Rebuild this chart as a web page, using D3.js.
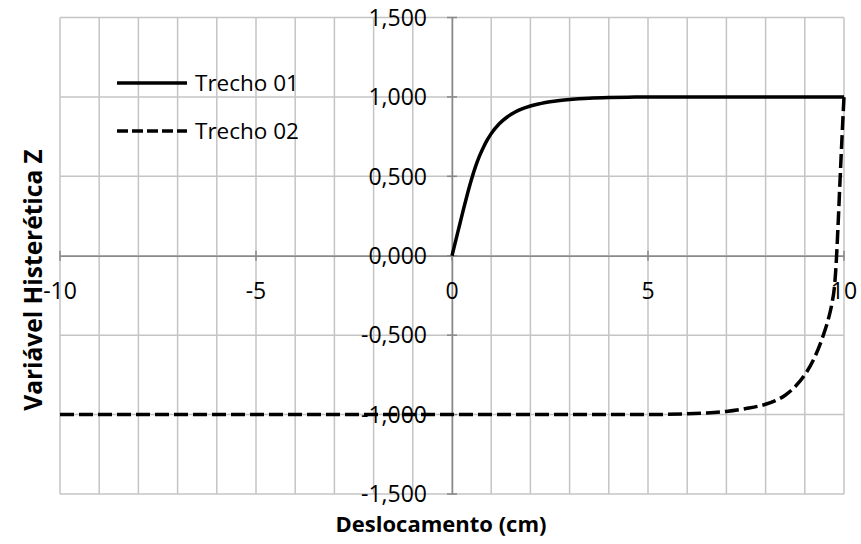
<!DOCTYPE html>
<html>
<head>
<meta charset="utf-8">
<script src="https://cdn.jsdelivr.net/npm/d3@7"></script>
<style>
  html, body { margin: 0; padding: 0; background: #fff; }
  svg { display: block; }
  text { font-family: "Open Sans", "Noto Sans", sans-serif; fill: #000; }
</style>
</head>
<body>
<svg id="chart" width="861" height="544"></svg>
<script>
// ---- data ----
const seriesNames = ["Trecho 01", "Trecho 02"];

const trecho01X = [0, 0.1, 0.2, 0.3, 0.4, 0.5, 0.6, 0.7, 0.8, 0.9, 1.0, 1.2, 1.4, 1.6, 1.8, 2.0, 2.25, 2.5, 2.75, 3.0, 3.5, 4, 4.5, 5, 6, 7, 8, 9, 10];
const trecho01Z = [0, 0.1, 0.2, 0.3, 0.395, 0.483, 0.561, 0.627, 0.682, 0.729, 0.769, 0.83, 0.872, 0.903, 0.926, 0.943, 0.958, 0.97, 0.978, 0.984, 0.992, 0.996, 0.998, 1, 1, 1, 1, 1, 1];

const trecho02X = [-10, -5, 0, 5, 6, 6.5, 7, 7.5, 8, 8.25, 8.5, 8.75, 9, 9.25, 9.5, 9.6, 9.7, 9.75, 9.8, 9.85, 9.9, 9.95, 10];
const trecho02Z = [-1, -1, -1, -1, -0.995, -0.99, -0.98, -0.962, -0.935, -0.912, -0.878, -0.825, -0.75, -0.64, -0.48, -0.40, -0.29, -0.21, -0.05, 0.2, 0.48, 0.75, 1.0];

const xTickValues = [-10, -5, 0, 5, 10];
const xTickLabels = ["-10", "-5", "0", "5", "10"];
const yTickValues = [1.5, 1.0, 0.5, 0, -0.5, -1.0, -1.5];
const yTickLabels = ["1,500", "1,000", "0,500", "0,000", "-0,500", "-1,000", "-1,500"];
const xGridValues = d3.range(-10, 10.001, 1);

const xTitle = "Deslocamento (cm)";
const yTitle = "Variável Histerética  Z";

// ---- layout ----
const svg = d3.select("#chart");
const x = d3.scaleLinear().domain([-10, 10]).range([60, 844]);
const y = d3.scaleLinear().domain([-1.5, 1.5]).range([494, 17.5]);

const gridColor = "#c4c4c4";
const axisColor = "#888888";

// grid
const grid = svg.append("g");
grid.selectAll("line.vx").data(xGridValues).join("line")
  .attr("x1", d => x(d)).attr("x2", d => x(d))
  .attr("y1", y(1.5)).attr("y2", y(-1.5))
  .attr("stroke", gridColor).attr("stroke-width", 1.5);
grid.selectAll("line.hy").data(yTickValues).join("line")
  .attr("x1", x(-10)).attr("x2", x(10))
  .attr("y1", d => y(d)).attr("y2", d => y(d))
  .attr("stroke", gridColor).attr("stroke-width", 1.5);

// axes through zero
const xAxis = d3.axisBottom(x).tickValues(xTickValues).tickSize(0).tickFormat("");
const yAxis = d3.axisLeft(y).tickValues(yTickValues).tickSize(0).tickFormat("");
const gx = svg.append("g").attr("transform", `translate(0,${y(0)})`).call(xAxis);
const gy = svg.append("g").attr("transform", `translate(${x(0)},0)`).call(yAxis);
[gx, gy].forEach(g => g.select(".domain").attr("stroke", axisColor).attr("stroke-width", 1.5));

// cross tick marks
svg.append("g").selectAll("line").data(xTickValues).join("line")
  .attr("x1", d => x(d)).attr("x2", d => x(d))
  .attr("y1", y(0) - 5).attr("y2", y(0) + 5)
  .attr("stroke", axisColor).attr("stroke-width", 1.5);
svg.append("g").selectAll("line").data(yTickValues).join("line")
  .attr("x1", x(0) - 5).attr("x2", x(0) + 5)
  .attr("y1", d => y(d)).attr("y2", d => y(d))
  .attr("stroke", axisColor).attr("stroke-width", 1.5);

// tick labels
svg.append("g").selectAll("text").data(xTickValues).join("text")
  .attr("x", d => x(d)).attr("y", y(0) + 43)
  .attr("text-anchor", "middle").attr("font-size", 23)
  .text((d, i) => xTickLabels[i]);
svg.append("g").selectAll("text").data(yTickValues).join("text")
  .attr("x", x(0) - 25).attr("y", d => y(d))
  .attr("dy", "0.36em")
  .attr("text-anchor", "end").attr("font-size", 23)
  .text((d, i) => yTickLabels[i]);

// series
const line = d3.line().x(d => x(d[0])).y(d => y(d[1])).curve(d3.curveMonotoneX);
const s1 = trecho01X.map((v, i) => [v, trecho01Z[i]]);
const s2 = trecho02X.map((v, i) => [v, trecho02Z[i]]);
svg.append("path").datum(s2).attr("d", line)
  .attr("fill", "none").attr("stroke", "#000").attr("stroke-width", 3.5)
  .attr("stroke-dasharray", "14,5");
svg.append("path").datum(s1).attr("d", line)
  .attr("fill", "none").attr("stroke", "#000").attr("stroke-width", 3.5);

// legend
const legend = svg.append("g");
const legendY = [83, 131];
seriesNames.forEach((name, i) => {
  legend.append("line")
    .attr("x1", 117).attr("x2", 187)
    .attr("y1", legendY[i]).attr("y2", legendY[i])
    .attr("stroke", "#000").attr("stroke-width", 3.5)
    .attr("stroke-dasharray", i === 1 ? "11,4" : null);
  legend.append("text")
    .attr("x", 195).attr("y", legendY[i]).attr("dy", "0.36em")
    .attr("font-size", 22.5).text(name);
});

// axis titles
svg.append("text")
  .attr("x", 441).attr("y", 532)
  .attr("text-anchor", "middle").attr("font-size", 22).attr("font-weight", "bold")
  .text(xTitle);
svg.append("text")
  .attr("transform", "translate(42,280) rotate(-90)")
  .attr("text-anchor", "middle").attr("font-size", 24.5).attr("font-weight", "bold")
  .text(yTitle);
</script>
</body>
</html>
